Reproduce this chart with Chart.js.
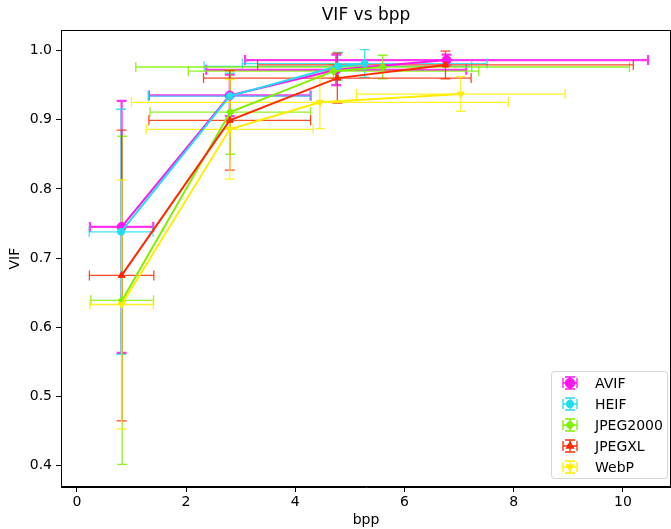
<!DOCTYPE html>
<html>
<head>
<meta charset="utf-8">
<script src="https://cdn.jsdelivr.net/npm/chart.js@4"></script>
<style>
  body { margin: 0; background: #fff; }
  #wrap { width: 671px; height: 529px; }
</style>
</head>
<body>
<div id="wrap"><canvas id="myChart" width="671" height="529"></canvas></div>
<script>
// codec names
var seriesNames = ['AVIF', 'HEIF', 'JPEG2000', 'JPEGXL', 'WebP'];

// bpp (x), VIF (y) and their errors, per codec
var avifX = [0.82, 2.80, 4.75, 6.77];
var avifY = [0.745, 0.935, 0.972, 0.986];
var avifXerr = [0.58, 1.48, 2.38, 3.69];
var avifYerr = [0.182, 0.030, 0.022, 0.008];

var heifX = [0.81, 2.80, 4.78, 5.27];
var heifY = [0.738, 0.934, 0.977, 0.981];
var heifXerr = [0.585, 1.49, 2.45, 2.24];
var heifYerr = [0.177, 0.033, 0.020, 0.020];

var j2kX = [0.83, 2.81, 4.70, 5.60];
var j2kY = [0.639, 0.911, 0.970, 0.976];
var j2kXerr = [0.575, 1.47, 2.66, 4.52];
var j2kYerr = [0.237, 0.061, 0.010, 0.017];

var jxlX = [0.82, 2.80, 4.77, 6.75];
var jxlY = [0.675, 0.899, 0.960, 0.979];
var jxlXerr = [0.59, 1.48, 2.45, 3.44];
var jxlYerr = [0.210, 0.072, 0.036, 0.020];

var webpX = [0.82, 2.80, 4.45, 7.03];
var webpY = [0.633, 0.886, 0.925, 0.937];
var webpXerr = [0.58, 1.53, 3.45, 1.91];
var webpYerr = [0.180, 0.072, 0.038, 0.025];

// tick labels
var xTicks = [0, 2, 4, 6, 8, 10];
var yTicks = [0.4, 0.5, 0.6, 0.7, 0.8, 0.9, 1.0];

// styles
var colors = ['#ff14f0', '#22dcf0', '#80f000', '#ff2a00', '#ffee00'];
var markers = ['circle', 'circle', 'rectRot', 'triangle', 'triangle'];
var markerRot = [0, 0, 0, 0, 180];
var markerSize = [4.5, 3.5, 4, 4, 4];
var errWidth = [2.2, 1.3, 1.3, 1.3, 1.3];
var FONT = 'DejaVu Sans';

function points(xs, ys, xe, ye) {
    var out = [];
    for (var i = 0; i < xs.length; i++) {
        out.push({ x: xs[i], y: ys[i], xerr: xe[i], yerr: ye[i] });
    }
    return out;
}

var allData = [
    points(avifX, avifY, avifXerr, avifYerr),
    points(heifX, heifY, heifXerr, heifYerr),
    points(j2kX, j2kY, j2kXerr, j2kYerr),
    points(jxlX, jxlY, jxlXerr, jxlYerr),
    points(webpX, webpY, webpXerr, webpYerr)
];

// error bars, drawn under the lines
var errorBars = {
    id: 'errorBars',
    beforeDatasetsDraw: function(chart) {
        var ctx = chart.ctx, xs = chart.scales.x, ys = chart.scales.y, a = chart.chartArea;
        var cap = 5;
        ctx.save();
        ctx.beginPath();
        ctx.rect(a.left, a.top, a.right - a.left, a.bottom - a.top);
        ctx.clip();
        chart.data.datasets.forEach(function(ds, i) {
            ctx.strokeStyle = ds.borderColor;
            ctx.lineWidth = errWidth[i];
            ctx.globalAlpha = 0.85;
            ds.data.forEach(function(p) {
                var px = xs.getPixelForValue(p.x), py = ys.getPixelForValue(p.y);
                var x0 = xs.getPixelForValue(p.x - p.xerr), x1 = xs.getPixelForValue(p.x + p.xerr);
                var y0 = ys.getPixelForValue(p.y - p.yerr), y1 = ys.getPixelForValue(p.y + p.yerr);
                ctx.beginPath();
                ctx.moveTo(x0, py); ctx.lineTo(x1, py);
                ctx.moveTo(px, y0); ctx.lineTo(px, y1);
                ctx.moveTo(x0, py - cap); ctx.lineTo(x0, py + cap);
                ctx.moveTo(x1, py - cap); ctx.lineTo(x1, py + cap);
                ctx.moveTo(px - cap, y0); ctx.lineTo(px + cap, y0);
                ctx.moveTo(px - cap, y1); ctx.lineTo(px + cap, y1);
                ctx.stroke();
            });
        });
        ctx.restore();
    }
};

// box around the plot
var frame = {
    id: 'frame',
    afterDatasetsDraw: function(chart) {
        var ctx = chart.ctx, a = chart.chartArea;
        ctx.save();
        ctx.strokeStyle = '#000';
        ctx.lineWidth = 1;
        ctx.strokeRect(Math.round(a.left) + 0.5, Math.round(a.top) + 0.5,
            Math.round(a.right - a.left) - 1, Math.round(a.bottom - a.top) - 1);
        ctx.restore();
    }
};

// legend in the lower right corner
var legendBox = {
    id: 'legendBox',
    afterDraw: function(chart) {
        var ctx = chart.ctx, a = chart.chartArea;
        var w = 116, h = 107;
        var bx = a.right - 4 - w, by = a.bottom - 9 - h;
        ctx.save();
        ctx.globalAlpha = 0.8;
        ctx.fillStyle = '#fff';
        ctx.strokeStyle = '#cccccc';
        ctx.lineWidth = 1;
        ctx.beginPath();
        ctx.roundRect(bx + 0.5, by + 0.5, w, h, 3);
        ctx.fill();
        ctx.stroke();
        ctx.globalAlpha = 1;
        seriesNames.forEach(function(name, i) {
            var cy = by + 12 + i * 21;
            var cx = bx + 19;
            ctx.strokeStyle = colors[i];
            ctx.lineWidth = 1.3;
            ctx.beginPath();
            ctx.moveTo(cx - 7, cy); ctx.lineTo(cx + 7, cy);
            ctx.moveTo(cx - 7, cy - 5); ctx.lineTo(cx - 7, cy + 5);
            ctx.moveTo(cx + 7, cy - 5); ctx.lineTo(cx + 7, cy + 5);
            ctx.moveTo(cx, cy - 6); ctx.lineTo(cx, cy + 6);
            ctx.moveTo(cx - 5, cy - 6); ctx.lineTo(cx + 5, cy - 6);
            ctx.moveTo(cx - 5, cy + 6); ctx.lineTo(cx + 5, cy + 6);
            ctx.stroke();
            ctx.fillStyle = colors[i];
            Chart.helpers.drawPoint(ctx, {
                pointStyle: markers[i], rotation: markerRot[i],
                radius: markerSize[i], borderWidth: 1
            }, cx, cy);
            ctx.fillStyle = '#000';
            ctx.font = '14px "' + FONT + '"';
            ctx.textBaseline = 'middle';
            ctx.fillText(name, bx + 44, cy + 1);
        });
        ctx.restore();
    }
};

var datasets = seriesNames.map(function(name, i) {
    return {
        label: name,
        data: allData[i],
        showLine: true,
        borderColor: colors[i],
        backgroundColor: colors[i],
        borderWidth: 2,
        pointStyle: markers[i],
        pointRotation: markerRot[i],
        pointRadius: markerSize[i],
        pointBorderWidth: 1,
        pointHoverRadius: markerSize[i],
        order: seriesNames.length - i
    };
});

var ctx = document.getElementById('myChart');

new Chart(ctx, {
    type: 'scatter',
    data: { datasets: datasets },
    plugins: [errorBars, frame, legendBox],
    options: {
        responsive: false,
        animation: false,
        devicePixelRatio: 1,
        layout: { autoPadding: false, padding: 0 },
        plugins: {
            legend: { display: false },
            tooltip: { enabled: false },
            title: {
                display: true,
                text: 'VIF vs bpp',
                fullSize: false,
                color: '#000',
                font: { family: FONT, size: 17, weight: 'normal' },
                padding: { top: 5, bottom: 5 }
            }
        },
        scales: {
            x: {
                type: 'linear',
                min: -0.29,
                max: 10.88,
                afterBuildTicks: function(s) { s.ticks = xTicks.map(function(v) { return { value: v }; }); },
                afterFit: function(s) { s.height = 42; s.paddingLeft = 0; s.paddingRight = 0; },
                grid: { drawOnChartArea: false, drawTicks: true, tickLength: 5, tickColor: '#000' },
                border: { display: true, color: '#000' },
                ticks: { color: '#000', font: { family: FONT, size: 14 }, padding: 2, maxRotation: 0 },
                title: { display: true, text: 'bpp', color: '#000', font: { family: FONT, size: 14 }, padding: { top: 0, bottom: 0 } }
            },
            y: {
                type: 'linear',
                min: 0.3694,
                max: 1.0289,
                afterBuildTicks: function(s) { s.ticks = yTicks.map(function(v) { return { value: v }; }); },
                afterFit: function(s) { s.width = 61; s.paddingTop = 0; s.paddingBottom = 0; },
                grid: { drawOnChartArea: false, drawTicks: true, tickLength: 5, tickColor: '#000' },
                border: { display: true, color: '#000' },
                ticks: {
                    color: '#000', font: { family: FONT, size: 14 }, padding: 4,
                    callback: function(v) { return v.toFixed(1); }
                },
                title: { display: true, text: 'VIF', color: '#000', font: { family: FONT, size: 14 }, padding: { top: 7, bottom: 0 } }
            }
        }
    }
});
</script>
</body>
</html>
